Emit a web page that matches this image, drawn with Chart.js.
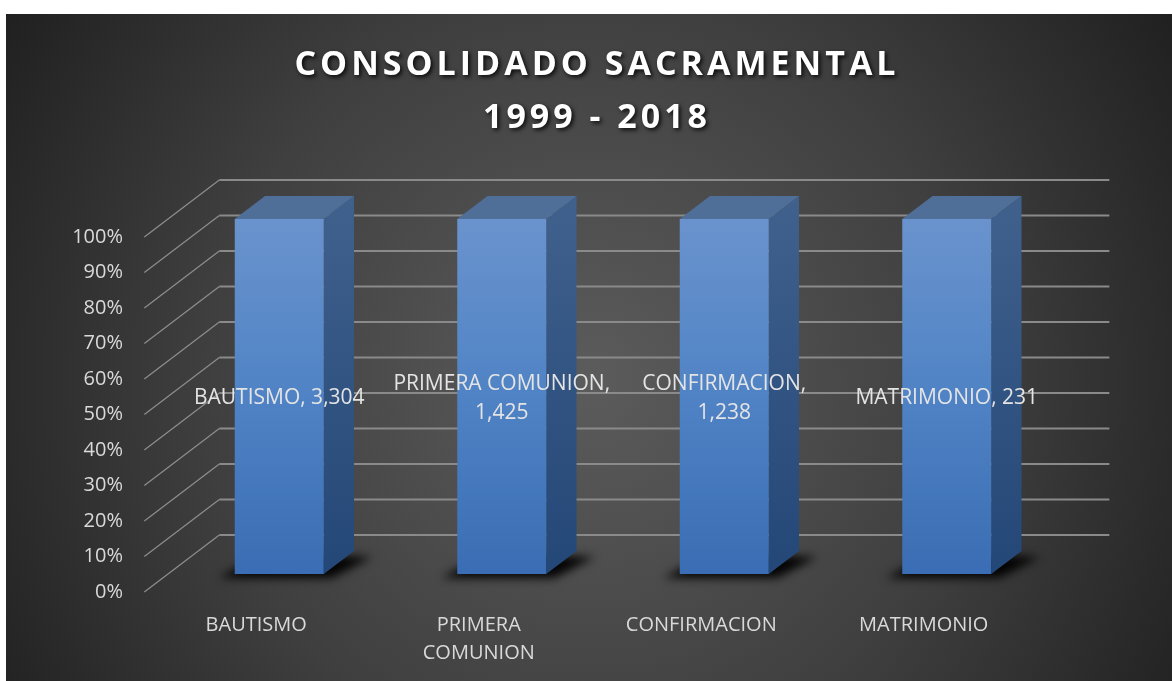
<!DOCTYPE html>
<html>
<head>
<meta charset="utf-8">
<script src="https://cdn.jsdelivr.net/npm/chart.js@4"></script>
<style>
  html, body { margin: 0; padding: 0; background: #fff; }
</style>
</head>
<body>
<canvas id="sacramental-chart" width="1172" height="681"></canvas>
<script>
// data
const categoryLabels = ['BAUTISMO', ['PRIMERA', 'COMUNION'], 'CONFIRMACION', 'MATRIMONIO'];
const sacramentNames = ['BAUTISMO', 'PRIMERA COMUNION', 'CONFIRMACION', 'MATRIMONIO'];
const sacramentCounts = [3304, 1425, 1238, 231];
const titleLines = ['CONSOLIDADO SACRAMENTAL', '1999 - 2018'];

// 100% stacked: single series, so each column is its share of the category total
const categoryTotals = sacramentCounts.slice();
const sharePercent = sacramentCounts.map((v, i) => 100 * v / categoryTotals[i]);

// 3d look
const DEPTH_X = 75 / 57;
const FRONT_DY = 18;
const BACK_DY = 39;
const BAR_DY = 23;
const textFont = '"Open Sans", "Noto Sans", sans-serif';

const scenePlugin = {
  id: 'scene',
  beforeDraw(chart) {
    const ctx = chart.ctx;
    const w = chart.width, h = chart.height;
    ctx.save();
    ctx.fillStyle = '#fff';
    ctx.fillRect(0, 0, w, h);
    const g = ctx.createRadialGradient(590, 380, 10, 590, 380, 690);
    g.addColorStop(0, '#5b5b5b');
    g.addColorStop(0.55, '#3f3f3f');
    g.addColorStop(1, '#202020');
    ctx.fillStyle = g;
    ctx.fillRect(6, 14, w - 6, h - 14);
    ctx.restore();
    // title is drawn next: spaced letters + shadow
    ctx.letterSpacing = '4px';
    ctx.shadowColor = 'rgba(0,0,0,0.85)';
    ctx.shadowBlur = 4;
    ctx.shadowOffsetX = 2;
    ctx.shadowOffsetY = 2;
  },
  beforeDatasetsDraw(chart) {
    const ctx = chart.ctx;
    ctx.letterSpacing = '0px';
    ctx.shadowColor = 'rgba(0,0,0,0)';
    ctx.shadowBlur = 0;
    ctx.shadowOffsetX = 0;
    ctx.shadowOffsetY = 0;

    const y = chart.scales.y;
    const area = chart.chartArea;
    const fx = area.left - FRONT_DY * DEPTH_X;
    const bx = area.left + BACK_DY * DEPTH_X;
    const rx = area.right + BACK_DY * DEPTH_X;
    ctx.save();
    y.ticks.forEach(t => {
      const py = y.getPixelForValue(t.value);
      ctx.strokeStyle = '#8e8e8e';
      ctx.lineWidth = 1.2;
      ctx.beginPath();
      ctx.moveTo(fx, py + FRONT_DY);
      ctx.lineTo(bx, py - BACK_DY);
      ctx.stroke();
      ctx.lineWidth = 2;
      ctx.strokeStyle = '#8a8a8a';
      ctx.beginPath();
      ctx.moveTo(bx, py - BACK_DY);
      ctx.lineTo(rx, py - BACK_DY);
      ctx.stroke();
    });

    const dx = BAR_DY * DEPTH_X, dy = BAR_DY;
    chart.getDatasetMeta(0).data.forEach(bar => {
      const l = bar.x - bar.width / 2, r = bar.x + bar.width / 2;
      const t = bar.y, b = bar.base;

      // floor shadow
      ctx.save();
      ctx.filter = 'blur(5px)';
      ctx.fillStyle = 'rgba(0,0,0,0.95)';
      ctx.beginPath();
      ctx.moveTo(l - 16, b + 4);
      ctx.lineTo(r + 8, b + 4);
      ctx.lineTo(r + dx + 18, b - dy + 6);
      ctx.lineTo(l + dx, b - dy + 2);
      ctx.closePath();
      ctx.fill();
      ctx.restore();

      // side face
      const sg = ctx.createLinearGradient(0, t - dy, 0, b);
      sg.addColorStop(0, '#41618d');
      sg.addColorStop(1, '#234777');
      ctx.fillStyle = sg;
      ctx.beginPath();
      ctx.moveTo(r, t);
      ctx.lineTo(r + dx, t - dy);
      ctx.lineTo(r + dx, b - dy);
      ctx.lineTo(r, b);
      ctx.closePath();
      ctx.fill();

      // top face
      ctx.fillStyle = '#4f6e98';
      ctx.beginPath();
      ctx.moveTo(l, t);
      ctx.lineTo(l + dx, t - dy);
      ctx.lineTo(r + dx, t - dy);
      ctx.lineTo(r, t);
      ctx.closePath();
      ctx.fill();
    });
    ctx.restore();
  },
  afterDatasetsDraw(chart) {
    const ctx = chart.ctx;
    ctx.save();
    ctx.font = '21px ' + textFont;
    ctx.fillStyle = '#e4e4e4';
    ctx.textAlign = 'center';
    ctx.textBaseline = 'middle';
    chart.getDatasetMeta(0).data.forEach((bar, i) => {
      const name = sacramentNames[i];
      const value = sacramentCounts[i].toLocaleString('en-US');
      const full = name + ', ' + value;
      const cy = (bar.y + bar.base) / 2 + 2;
      if (ctx.measureText(full).width > 200) {
        ctx.fillText(name + ',', bar.x, cy - 14);
        ctx.fillText(value, bar.x, cy + 15);
      } else {
        ctx.fillText(full, bar.x, cy);
      }
    });
    ctx.restore();
  }
};

const canvas = document.getElementById('sacramental-chart');
new Chart(canvas, {
  type: 'bar',
  data: {
    labels: categoryLabels,
    datasets: [{
      label: 'Sacramentos',
      data: sharePercent,
      backgroundColor: function (context) {
        const area = context.chart.chartArea;
        if (!area) return '#4f81bd';
        const g = context.chart.ctx.createLinearGradient(0, area.top, 0, area.bottom);
        g.addColorStop(0, '#6a93cd');
        g.addColorStop(0.5, '#4f83c5');
        g.addColorStop(1, '#3a6db3');
        return g;
      },
      borderWidth: 0,
      categoryPercentage: 1,
      barPercentage: 0.4
    }]
  },
  options: {
    responsive: false,
    animation: false,
    layout: {
      padding: { top: 15, left: 22, right: 0, bottom: 0 }
    },
    plugins: {
      legend: { display: false },
      tooltip: { enabled: false },
      title: {
        display: true,
        text: titleLines,
        color: '#ffffff',
        font: { family: textFont, weight: 'bold', size: 34, lineHeight: 53 / 34 },
        padding: { top: 24, bottom: 74 }
      }
    },
    scales: {
      x: {
        stacked: true,
        grid: { display: false },
        border: { display: false },
        afterFit: s => { s.height = 107; },
        ticks: {
          z: 1,
          color: '#d9d9d9',
          font: { family: textFont, size: 20, lineHeight: 1.4 },
          padding: 29,
          labelOffset: -23,
          maxRotation: 0,
          autoSkip: false
        }
      },
      y: {
        stacked: true,
        min: 0,
        max: 100,
        grid: { display: false, drawTicks: false },
        border: { display: false },
        afterFit: s => { s.width = 146; },
        ticks: {
          z: 1,
          stepSize: 10,
          color: '#d9d9d9',
          font: { family: textFont, size: 20 },
          padding: 45,
          labelOffset: 18,
          callback: v => v + '%'
        }
      },
      // empty right axis only keeps the room right of the plot
      yRight: {
        position: 'right',
        display: true,
        grid: { display: false, drawTicks: false },
        border: { display: false },
        ticks: { display: false },
        afterFit: s => { s.width = 114; }
      }
    }
  },
  plugins: [scenePlugin]
});
</script>
</body>
</html>
